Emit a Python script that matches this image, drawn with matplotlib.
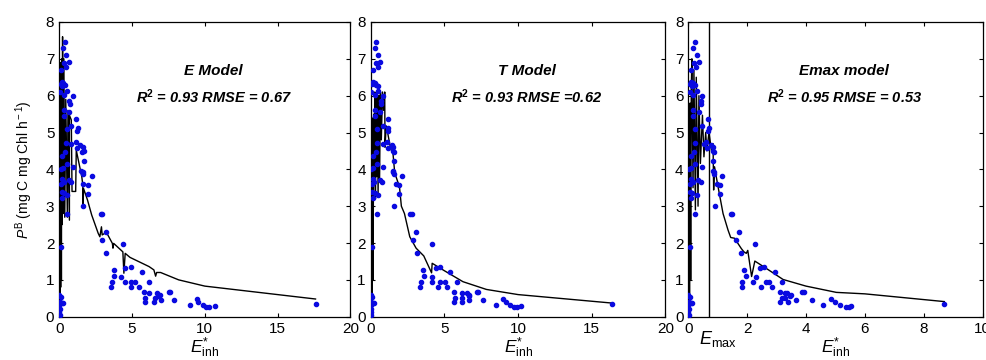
import matplotlib
matplotlib.use("Agg")
import matplotlib.pyplot as plt

plt.rcParams['font.family'] = ['Liberation Sans', 'DejaVu Sans']
plt.rcParams['mathtext.fontset'] = 'custom'
plt.rcParams['mathtext.rm'] = 'Liberation Sans'
plt.rcParams['mathtext.it'] = 'Liberation Sans:italic'
plt.rcParams['mathtext.bf'] = 'Liberation Sans:bold'

# ---------------- observed data (shared P^B, model-specific E*_inh) ----------------
pb_obs = [7.45, 7.30, 7.10, 6.92, 6.88, 6.77, 6.70, 6.38, 6.35, 6.30, 6.32, 6.25, 6.13, 6.10,
          6.02, 6.00, 5.85, 5.77, 5.60, 5.55, 5.46, 5.38, 5.18, 5.13, 5.04, 5.10, 4.74, 4.72,
          4.68, 4.65, 4.60, 4.58, 4.50, 4.47, 4.47, 4.37, 4.23, 4.15, 4.06, 4.00, 4.03, 3.95,
          3.92, 3.87, 3.83, 3.75, 3.70, 3.67, 3.65, 3.60, 3.60, 3.57, 3.38, 3.35, 3.30, 3.32,
          3.23, 3.00, 2.80, 2.78, 2.78, 2.30, 2.08, 1.97, 1.90, 1.72, 1.36, 1.31, 1.28, 1.20,
          1.10, 1.07, 0.93, 0.93, 0.93, 0.93, 0.93, 0.80, 0.80, 0.80, 0.68, 0.67, 0.67, 0.65,
          0.63, 0.60, 0.55, 0.50, 0.50, 0.45, 0.45, 0.40, 0.40, 0.49, 0.39, 0.33, 0.33, 0.27,
          0.27, 0.30, 0.34, 0.59, 0.54, 0.41, 0.36, 0.33, 0.20, 0.12, 0.05, 0.37]

e_inh_E = [0.43, 0.27, 0.47, 0.70, 0.32, 0.47, 0.14, 0.16, 0.27, 0.38, 0.09, 0.22, 0.56, 0.05,
           0.32, 0.93, 0.70, 0.72, 0.32, 0.68, 0.32, 1.15, 0.83, 1.28, 1.24, 0.50, 1.13, 0.45,
           0.83, 1.46, 1.60, 1.20, 1.67, 1.58, 0.38, 0.20, 1.67, 0.50, 0.93, 0.10, 0.23, 1.50,
           1.65, 1.62, 2.23, 0.16, 0.70, 0.80, 0.30, 0.12, 1.65, 1.98, 0.16, 0.32, 0.54, 2.00,
           0.20, 1.65, 0.50, 2.84, 2.95, 3.24, 2.93, 4.39, 0.15, 3.24, 4.90, 4.50, 3.78, 5.70,
           3.78, 4.23, 3.60, 4.50, 4.90, 5.22, 6.15, 3.57, 4.93, 5.47, 5.79, 7.57, 7.62, 6.15,
           6.70, 6.90, 6.80, 5.90, 6.60, 7.00, 7.86, 5.90, 6.50, 9.46, 9.55, 8.99, 9.86, 10.05,
           10.27, 10.68, 17.60, 0.00, 0.09, 0.05, 0.16, 0.00, 0.02, 0.00, 0.05, 0.23]

e_inh_T = [0.39, 0.27, 0.48, 0.66, 0.36, 0.48, 0.14, 0.16, 0.27, 0.38, 0.07, 0.50, 0.52, 0.05,
           0.32, 0.84, 0.70, 0.72, 0.27, 0.64, 0.30, 1.18, 0.82, 1.20, 1.18, 0.43, 1.09, 0.40,
           0.86, 1.43, 1.52, 1.20, 1.50, 1.55, 0.33, 0.15, 1.55, 0.43, 0.86, 0.05, 0.16, 1.48,
           1.52, 1.57, 2.10, 0.16, 0.66, 0.75, 0.23, 0.12, 1.72, 1.93, 0.12, 0.32, 0.52, 1.95,
           0.16, 1.61, 0.43, 2.65, 2.77, 3.08, 2.86, 4.13, 0.12, 3.17, 4.67, 4.40, 3.54, 5.40,
           3.60, 4.13, 3.38, 4.13, 4.70, 5.03, 5.83, 3.36, 4.56, 5.20, 5.65, 7.20, 7.30, 6.20,
           6.55, 6.70, 6.70, 5.70, 6.20, 6.70, 7.60, 5.65, 6.20, 8.96, 9.16, 8.50, 9.43, 9.75,
           9.90, 10.18, 16.37, 0.00, 0.07, 0.04, 0.14, 0.00, 0.02, 0.00, 0.04, 0.20]

e_inh_Emax = [0.24, 0.16, 0.28, 0.37, 0.19, 0.27, 0.09, 0.10, 0.16, 0.22, 0.05, 0.13, 0.31, 0.05,
              0.17, 0.48, 0.44, 0.42, 0.17, 0.36, 0.17, 0.68, 0.47, 0.70, 0.67, 0.24, 0.60, 0.22,
              0.53, 0.78, 0.83, 0.65, 0.84, 0.88, 0.19, 0.10, 0.85, 0.24, 0.48, 0.02, 0.09, 0.85,
              0.86, 0.87, 1.16, 0.09, 0.34, 0.43, 0.15, 0.05, 0.96, 1.08, 0.05, 0.12, 0.30, 1.08,
              0.09, 0.90, 0.24, 1.44, 1.50, 1.72, 1.62, 2.26, 0.07, 1.78, 2.56, 2.42, 1.90, 2.94,
              1.97, 2.31, 1.82, 2.19, 2.63, 2.74, 3.20, 1.81, 2.47, 2.84, 3.10, 3.87, 3.93, 3.27,
              3.35, 3.50, 3.45, 3.20, 3.30, 3.65, 4.22, 3.12, 3.38, 4.86, 5.00, 4.57, 5.14, 5.37,
              5.45, 5.53, 8.70, 0.00, 0.04, 0.02, 0.08, 0.00, 0.01, 0.00, 0.02, 0.11]

# ---------------- model curves ----------------
model_E_x = [0.00, 0.02, 0.05, 0.08, 0.10, 0.12, 0.15, 0.18, 0.20, 0.23, 0.27, 0.32, 0.38, 0.45,
             0.56, 0.60, 0.70, 0.70, 0.83, 0.88, 1.13, 1.17, 1.55, 1.62, 1.64, 1.67, 1.94, 2.23,
             2.68, 2.79, 2.90, 2.95, 3.24, 3.65, 3.69, 3.74, 4.37, 4.44, 4.53, 4.86, 6.17, 6.50,
             6.62, 6.69, 6.96, 8.20, 10.00, 17.60]
model_E_y = [0.10, 5.80, 0.50, 6.90, 0.80, 6.30, 1.00, 7.00, 2.50, 7.60, 2.80, 7.00, 2.70, 5.90,
             2.70, 5.60, 2.62, 5.47, 5.34, 3.40, 3.40, 4.52, 3.80, 3.57, 3.00, 3.48, 3.17, 2.76,
             2.26, 2.17, 2.44, 2.22, 2.29, 1.99, 1.86, 1.99, 1.76, 1.18, 1.72, 1.61, 1.36, 1.27,
             1.10, 1.20, 1.20, 1.00, 0.83, 0.48]

model_T_x = [0.00, 0.03, 0.05, 0.08, 0.10, 0.13, 0.16, 0.20, 0.24, 0.28, 0.32, 0.36, 0.40, 0.45,
             0.50, 0.55, 0.60, 0.66, 0.72, 0.80, 0.88, 0.95, 0.97, 1.05, 1.10, 1.36, 1.50, 1.63,
             1.95, 2.08, 2.29, 2.65, 3.08, 3.60, 4.13, 4.17, 4.99, 6.26, 7.85, 10.00, 16.37]
model_T_y = [0.10, 5.50, 0.30, 5.40, 0.60, 5.00, 1.00, 5.50, 3.60, 6.10, 3.20, 6.00, 3.80, 6.10,
             3.30, 6.00, 3.70, 6.10, 4.80, 6.10, 5.60, 6.10, 4.60, 5.18, 5.10, 4.54, 4.48, 3.90,
             3.53, 3.00, 2.80, 2.17, 1.86, 1.65, 1.19, 1.45, 1.25, 0.95, 0.74, 0.60, 0.37]

model_Emax_x = [0.00, 0.02, 0.04, 0.06, 0.08, 0.10, 0.12, 0.16, 0.19, 0.24, 0.27, 0.33, 0.36,
                0.41, 0.48, 0.53, 0.59, 0.63, 0.70, 0.79, 0.84, 0.86, 0.89, 1.00, 1.18, 1.35,
                1.44, 1.57, 1.80, 1.89, 1.97, 2.02, 2.15, 2.26, 2.65, 3.22, 4.00, 5.03, 6.00, 8.70]
model_Emax_y = [0.10, 4.50, 0.50, 5.80, 1.00, 6.20, 7.00, 3.50, 6.70, 2.90, 6.50, 3.00, 6.00,
                4.16, 5.47, 4.34, 5.00, 4.50, 5.00, 4.50, 4.70, 3.44, 4.07, 3.57, 2.80, 2.35,
                2.15, 2.13, 1.85, 1.76, 1.72, 1.80, 1.09, 1.51, 1.31, 1.01, 0.83, 0.66, 0.62, 0.41]

emax_value = 0.70

panel_titles = ["E Model", "T Model", "Emax model"]
panel_stats = [r"R$^\mathbf{2}$ = 0.93 RMSE = 0.67",
               r"R$^\mathbf{2}$ = 0.93 RMSE =0.62",
               r"R$^\mathbf{2}$ = 0.95 RMSE = 0.53"]
xmax_list = [20, 20, 10]
xticks_list = [[0, 5, 10, 15, 20], [0, 5, 10, 15, 20], [0, 2, 4, 6, 8, 10]]
yticks = [0, 1, 2, 3, 4, 5, 6, 7, 8]

obs_x = [e_inh_E, e_inh_T, e_inh_Emax]
mod_x = [model_E_x, model_T_x, model_Emax_x]
mod_y = [model_E_y, model_T_y, model_Emax_y]

fig = plt.figure(figsize=(9.87, 3.6), dpi=100)
rects = [(0.0600, 0.1203, 0.2951, 0.8186),
         (0.3756, 0.1203, 0.2986, 0.8186),
         (0.6974, 0.1203, 0.2981, 0.8186)]

dot_color = '#0a0ae0'
for i, r in enumerate(rects):
    ax = fig.add_axes(r)
    ax.plot(mod_x[i], mod_y[i], color='black', lw=1.0, zorder=2)
    ax.plot(obs_x[i], pb_obs, 'o', color=dot_color, ms=3.0, mec=dot_color, zorder=3)
    ax.set_xlim(0, xmax_list[i])
    ax.set_ylim(0, 8)
    ax.set_xticks(xticks_list[i])
    ax.set_yticks(yticks)
    ax.tick_params(direction='in', top=True, right=True, length=3, width=0.8,
                   labelsize=11, pad=3.5)
    for s in ax.spines.values():
        s.set_linewidth(0.9)
    ax.text(0.53, 0.835, panel_titles[i], transform=ax.transAxes, ha='center', va='center',
            fontsize=11, fontweight='bold', fontstyle='italic')
    ax.text(0.53, 0.745, panel_stats[i], transform=ax.transAxes, ha='center', va='center',
            fontsize=10.5, fontweight='bold', fontstyle='italic')
    ax.set_xlabel(r'$E^{*}_{\rm inh}$', fontsize=12.5, labelpad=0)
    if i == 0:
        ax.set_ylabel(r'$P^{\rm B}$ (mg C mg Chl h$^{\rm -1}$)', fontsize=10, labelpad=8)
    if i == 2:
        ax.axvline(emax_value, color='black', lw=1.0, zorder=2)
        ax.text(emax_value - 0.35, -0.33, r'$E_{\rm max}$', ha='left', va='top', fontsize=13,
                transform=ax.transData)

fig.savefig('out.png', dpi=100)
